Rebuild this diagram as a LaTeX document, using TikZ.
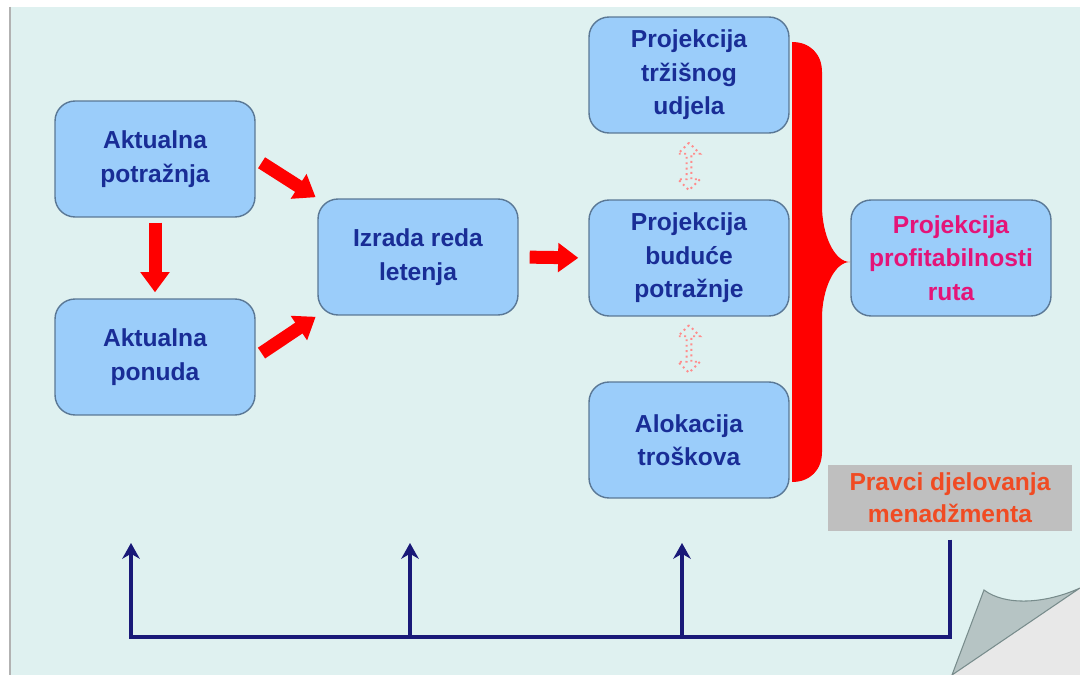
\documentclass[tikz,border=0pt]{standalone}
\usepackage{fontspec}
\setmainfont{Liberation Sans}
\usepackage{tikz}
\usetikzlibrary{arrows.meta,shapes.arrows,calc}

\definecolor{panelbg}{RGB}{223,241,240}
\definecolor{boxfill}{RGB}{155,205,250}
\definecolor{boxline}{RGB}{90,120,150}
\definecolor{boxtext}{RGB}{25,45,150}
\definecolor{pinktext}{RGB}{228,20,120}
\definecolor{orangetext}{RGB}{240,75,35}
\definecolor{navyline}{RGB}{25,25,120}
\definecolor{flapgrey}{RGB}{182,196,196}
\definecolor{flapline}{RGB}{120,140,140}

\tikzset{
  box/.style={draw=boxline, line width=0.8pt, fill=boxfill, rounded corners=0.4cm,
    minimum width=4cm, minimum height=2.32cm, align=center, text=boxtext,
    font=\fontsize{14}{19}\selectfont\bfseries},
  notebox/.style={fill=gray!50, minimum width=4.9cm, minimum height=1.34cm, align=center,
    text=orangetext, font=\fontsize{14}{18}\selectfont\bfseries},
  redarrow/.style={draw=red, line width=7.4pt, -{Triangle[width=16pt,length=11.5pt]}},
  dotarrow/.style={double arrow, draw=red!45, dotted, line width=1.1pt, rotate=90,
    minimum height=0.95cm, minimum width=0.44cm, inner sep=0pt, double arrow head extend=0.07cm},
  navyarrow/.style={draw=navyline, line width=2.2pt, -{Stealth[length=9pt,width=10pt]}}
}

\begin{document}
\begin{tikzpicture}[x=0.02cm, y=-0.02cm]
\useasboundingbox (0,0) rectangle (1080,675);
\fill[white] (0,0) rectangle (1080,675);
\fill[panelbg] (10,7) rectangle (1080,675);
\draw[gray!60, line width=1.2pt] (10,7) -- (10,675);

\node[box] (aktPot) at (155,159) {Aktualna\\potražnja};
\node[box] (aktPon) at (155,357) {Aktualna\\ponuda};
\node[box] (izrada) at (418,257) {Izrada reda\\letenja};
\node[box] (trzUdio) at (689,75) {Projekcija\\tržišnog\\udjela};
\node[box] (budPot) at (689,258) {Projekcija\\buduće\\potražnje};
\node[box] (alok) at (689,440) {Alokacija\\troškova};
\node[box, text=pinktext] (profit) at (951,258) {Projekcija\\profitabilnosti\\ruta};
\node[notebox] (pravci) at (950,498) {Pravci djelovanja\\menadžmenta};

\draw[redarrow, shorten <=0.1cm, shorten >=0.12cm] (aktPot.south) -- (aktPon.north);
\draw[redarrow, shorten <=0.14cm, shorten >=0.04cm] (aktPot.east) -- (izrada.north west);
\draw[redarrow, shorten <=0.14cm, shorten >=0.04cm] (aktPon.east) -- (izrada.south west);
\draw[redarrow, shorten <=0.22cm, shorten >=0.2cm] (izrada.east) -- (budPot.west);

\node[dotarrow] (dUp) at ($(trzUdio.south)!0.5!(budPot.north)$) {};
\node[dotarrow] (dDown) at ($(budPot.south)!0.5!(alok.north)$) {};

\fill[red] (792,42) -- (792,482) .. controls (810,482) and (822,470) .. (822,452)
  -- (822,318) .. controls (822,290) and (834,262) .. (850,262)
  .. controls (834,262) and (822,234) .. (822,206)
  -- (822,72) .. controls (822,54) and (810,42) .. (792,42) -- cycle;

\coordinate (base) at (131,637);
\coordinate (up1) at (131,543);
\coordinate (up2) at (410,543);
\coordinate (up3) at (682,543);
\draw[navyarrow] ([yshift=-4.5pt]pravci.south) |- (base) -- (up1);
\draw[navyarrow] (up2 |- base) -- (up2);
\draw[navyarrow] (up3 |- base) -- (up3);

\fill[gray!18] (950,675) -- (1080,587) -- (1080,675) -- cycle;
\filldraw[fill=flapgrey, draw=flapline, line width=0.6pt] (952,675) -- (984,590)
  .. controls (1005,606) and (1045,604) .. (1080,588) -- cycle;
\end{tikzpicture}
\end{document}
